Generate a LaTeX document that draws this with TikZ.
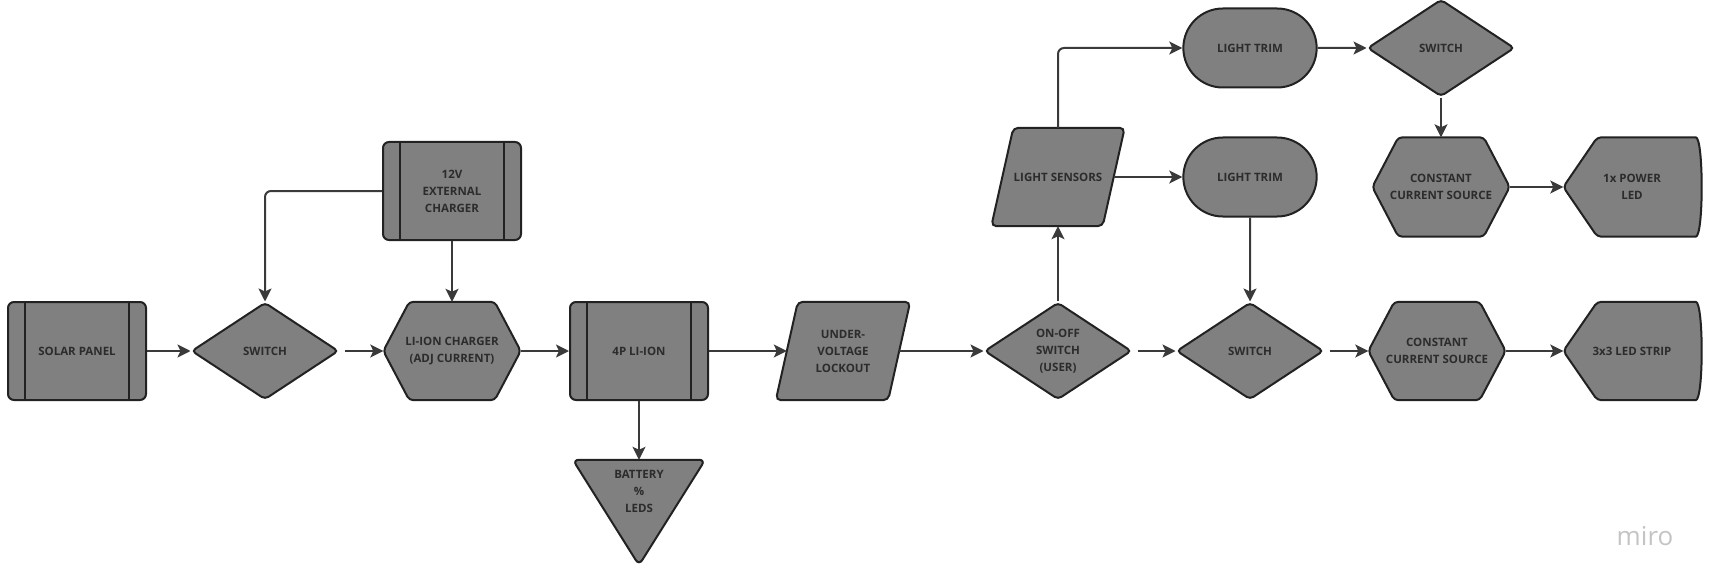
\documentclass[tikz,border=0pt]{standalone}
\usepackage{fontspec}
\newfontfamily\labelfont{Open Sans}
\usetikzlibrary{shapes.geometric,shapes.misc,arrows.meta,backgrounds}
\definecolor{boxC}{RGB}{128,128,128}
\definecolor{edgeC}{RGB}{34,34,34}
\definecolor{arrC}{RGB}{58,58,58}
\definecolor{txtC}{RGB}{44,44,44}
\definecolor{miroC}{RGB}{196,196,196}
\begin{document}
\begin{tikzpicture}[x=1pt,y=-1pt,
  basebox/.style={draw=edgeC, fill=boxC, line width=2pt},
  lbl/.style={align=center, text=txtC, font=\labelfont\bfseries\fontsize{11.5}{17}\selectfont},
  procbox/.style={basebox, lbl, rectangle, rounded corners=6pt, minimum width=138pt, minimum height=98pt,
    path picture={\draw[edgeC, line width=2pt]
      ([xshift=17pt]path picture bounding box.north west) -- ([xshift=17pt]path picture bounding box.south west)
      ([xshift=-17pt]path picture bounding box.north east) -- ([xshift=-17pt]path picture bounding box.south east);}},
  decbox/.style={basebox, lbl, diamond, aspect=1.5, inner sep=0pt, rounded corners=4pt, minimum width=147pt, minimum height=97pt},
  iobox/.style={lbl, minimum width=112pt, minimum height=98pt},
  trimbox/.style={basebox, lbl, rounded rectangle, minimum width=140pt, minimum height=79pt},
  hexbox/.style={lbl, minimum width=137pt, minimum height=98pt},
  ledbox/.style={lbl, minimum width=137pt, minimum height=99pt},
  flow/.style={draw=arrC, line width=2pt, -{Stealth[length=13pt,width=13pt,inset=3pt]}},
]
\useasboundingbox (0,0) rectangle (1713,583);

\node[procbox] (sol) at (77,351) {SOLAR PANEL};
\node[decbox] (swa) at (265,351) {SWITCH};
\node[hexbox] (chg) at (452,351) {LI-ION CHARGER\\(ADJ CURRENT)};
\node[procbox] (ext) at (452,191) {12V\\EXTERNAL\\CHARGER};
\node[procbox] (bat) at (639,351) {4P LI-ION};
\node[lbl, minimum width=132pt, minimum height=62pt] (pct) at (639,491) {BATTERY\\\%\\LEDS};
\node[iobox] (uvl) at (843,351) {UNDER-\\VOLTAGE\\LOCKOUT};
\node[decbox] (onf) at (1058,351) {ON-OFF\\SWITCH\\(USER)};
\node[iobox, minimum width=111pt] (sen) at (1058,177) {LIGHT SENSORS};
\node[trimbox] (trma) at (1250,48) {LIGHT TRIM};
\node[trimbox] (trmb) at (1250,177) {LIGHT TRIM};
\node[decbox] (swb) at (1250,351) {SWITCH};
\node[decbox] (swc) at (1441,48) {SWITCH};
\node[hexbox, minimum height=99pt] (cca) at (1441,187) {CONSTANT\\CURRENT SOURCE};
\node[hexbox] (ccb) at (1437,351) {CONSTANT\\CURRENT SOURCE};
\node[ledbox] (led1) at (1632,187) {1x POWER\\LED};
\node[ledbox, minimum height=98pt] (led2) at (1632,351) {3x3 LED STRIP};
\node[text=miroC, font=\labelfont\fontsize{26}{26}\selectfont] (miro) at (1645,536) {miro};

\begin{scope}[on background layer]
\foreach \h in {chg,cca,ccb}
  \draw[basebox, rounded corners=4pt] (\h.west) -- ([xshift=26pt]\h.north west) -- ([xshift=-26pt]\h.north east)
    -- (\h.east) -- ([xshift=-26pt]\h.south east) -- ([xshift=26pt]\h.south west) -- cycle;
\foreach \p in {uvl,sen}
  \draw[basebox, rounded corners=5pt] ([xshift=-11pt]\p.south west) -- ([xshift=11pt]\p.north west)
    -- ([xshift=11pt]\p.north east) -- ([xshift=-11pt]\p.south east) -- cycle;
\foreach \d in {led1,led2}
  \draw[basebox, rounded corners=4pt] (\d.west) -- ([xshift=34pt]\d.north west) -- ([xshift=-9pt]\d.north east)
    .. controls ([xshift=3pt]\d.north east) and ([xshift=3pt]\d.south east) .. ([xshift=-9pt]\d.south east)
    -- ([xshift=34pt]\d.south west) -- cycle;
\draw[basebox, rounded corners=6pt] (pct.north west) -- (pct.north east) -- ([yshift=-43pt]pct.south) -- cycle;
\end{scope}

\draw[flow] (sol) -- (swa);
\draw[flow, shorten <=5pt] (swa) -- (chg);
\draw[flow, rounded corners=6pt] (ext.west) -| (swa.north);
\draw[flow] (ext) -- (chg);
\draw[flow] (chg) -- (bat);
\draw[flow] (bat) -- (uvl);
\draw[flow] (bat) -- (pct);
\draw[flow] (uvl) -- (onf);
\draw[flow] (onf) -- (sen);
\draw[flow, rounded corners=6pt] (sen.north) |- (trma.west);
\draw[flow] (sen) -- (trmb);
\draw[flow] (trmb) -- (swb);
\draw[flow, shorten <=5pt] (onf) -- (swb);
\draw[flow, shorten <=5pt] (swb) -- (ccb);
\draw[flow] (ccb) -- (led2);
\draw[flow] (trma) -- (swc);
\draw[flow] (swc) -- (cca);
\draw[flow] (cca) -- (led1);
\end{tikzpicture}
\end{document}
